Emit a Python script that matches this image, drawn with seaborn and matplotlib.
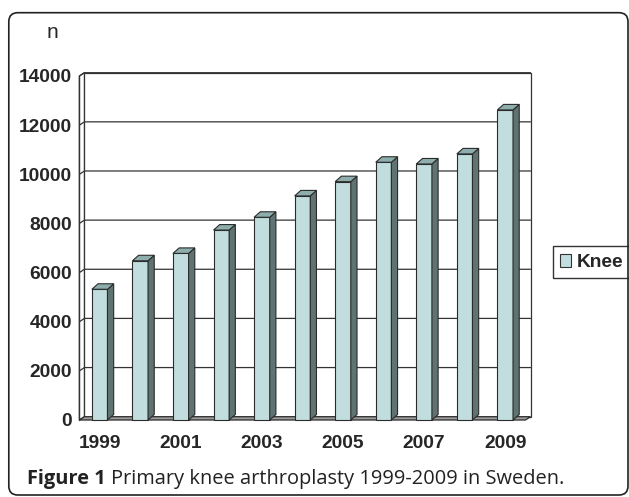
import numpy as np
import pandas as pd
import seaborn as sns
import matplotlib
matplotlib.use('Agg')
import matplotlib.pyplot as plt
from matplotlib import font_manager
from matplotlib.patches import Polygon, Rectangle, FancyBboxPatch

# data
years = [1999, 2000, 2001, 2002, 2003, 2004, 2005, 2006, 2007, 2008, 2009]
knee = [5320, 6480, 6780, 7730, 8250, 9120, 9700, 10490, 10420, 10830, 12620]
series = 'Knee'
y_ticks = [0, 2000, 4000, 6000, 8000, 10000, 12000, 14000]
caption_bold = 'Figure 1'
caption_rest = 'Primary knee arthroplasty 1999-2009 in Sweden.'

front_col = '#bce1e3'
side_col = '#5f7372'
top_col = '#8eadad'
edge_col = '#2b2b2b'

sns.set_style('white')

# the original uses a narrow Arial; take the narrow Liberation face if there is one
names = {f.name for f in font_manager.fontManager.ttflist}
if 'Liberation Sans Narrow' in names:
    tick_font, tick_size = 'Liberation Sans Narrow', 15
else:
    tick_font, tick_size = 'Liberation Sans', 13.8
plt.rcParams['font.family'] = [tick_font, 'DejaVu Sans']

df = pd.DataFrame({'year': years, 'n': knee, 'joint': series})

W, H = 629, 497
fig = plt.figure(figsize=(W / 100, H / 100), dpi=100)

# front plane of the 3d box, in pixels
x0, x1, ytop, ybot = 79.4, 525.5, 76, 420
ax = fig.add_axes([x0 / W, 1 - ybot / H, (x1 - x0) / W, (ybot - ytop) / H])
ax.patch.set_visible(False)
ymax = y_ticks[-1]
ncat = len(years)

# pixels -> data units
ux = (x1 - x0) / ncat
uy = (ybot - ytop) / ymax
wdx, wdy = 5.0 / ux, 3.3 / uy      # depth of the walls
bdx, bdy = 6.2 / ux, 5.5 / uy      # depth of the bars
left, right = -0.5, ncat - 0.5

# back wall
ax.add_patch(Rectangle((left + wdx, wdy), ncat, ymax, fc='white', ec='#333333',
                       lw=0.9, zorder=1, clip_on=False))
# left wall
ax.add_patch(Polygon([(left, 0), (left + wdx, wdy), (left + wdx, ymax + wdy), (left, ymax)],
                     closed=True, fc='white', ec='#333333', lw=0.9, zorder=1, clip_on=False))
# gridlines on the walls
for v in y_ticks[1:]:
    ax.plot([left, left + wdx, right + wdx], [v, v + wdy, v + wdy], color='#333333',
            lw=0.9, zorder=2, clip_on=False)
# floor
ax.add_patch(Polygon([(left, 0), (right, 0), (right + wdx, wdy), (left + wdx, wdy)],
                     closed=True, fc='#9c9c9c', ec=edge_col, lw=0.9, zorder=3, clip_on=False))

sns.barplot(data=df, x='year', y='n', hue='joint', palette=[front_col], width=0.385,
            edgecolor=edge_col, linewidth=0.8, ax=ax)
bars = [p for c in ax.containers for p in c]
for p in bars:
    p.set_zorder(5)
    p.set_clip_on(False)
    bx, bw, bh = p.get_x(), p.get_width(), p.get_height()
    side = [(bx + bw, 0), (bx + bw + bdx, bdy), (bx + bw + bdx, bh + bdy), (bx + bw, bh)]
    top = [(bx, bh), (bx + bw, bh), (bx + bw + bdx, bh + bdy), (bx + bdx, bh + bdy)]
    ax.add_patch(Polygon(side, closed=True, fc=side_col, ec=edge_col, lw=0.8, zorder=5, clip_on=False))
    ax.add_patch(Polygon(top, closed=True, fc=top_col, ec=edge_col, lw=0.8, zorder=5, clip_on=False))

ax.set_xlim(left, right)
ax.set_ylim(0, ymax)
for s in ax.spines.values():
    s.set_visible(False)
ax.plot([left, left], [0, ymax], color='#333333', lw=1, zorder=4, clip_on=False)

ax.set_yticks(y_ticks, labels=[str(v) for v in y_ticks])
ax.tick_params(axis='y', length=4, width=0.9, color='#333333', pad=1.5, labelsize=tick_size)
for t in ax.get_yticklabels():
    t.set_fontweight('bold')

ax.set_xticks(np.arange(left, right + 0.01, 1), labels=[])
ax.set_xticks(range(0, ncat, 2), labels=[str(y) for y in years[::2]], minor=True)
ax.tick_params(axis='x', which='major', length=5, width=0.9, color='#333333')
ax.tick_params(axis='x', which='minor', length=0, pad=11, labelsize=tick_size)
for t in ax.get_xticklabels(minor=True):
    t.set_fontweight('bold')
ax.set_xlabel('')
ax.set_ylabel('')

sns.move_legend(ax, 'center left', bbox_to_anchor=(553 / W, 1 - 262.3 / H),
                bbox_transform=fig.transFigure, title=None, frameon=True, fancybox=False,
                edgecolor='#333333', framealpha=1, borderaxespad=0, borderpad=0.38,
                handlelength=0.55, handleheight=0.72, handletextpad=0.3,
                prop={'weight': 'bold', 'size': tick_size})
leg = ax.get_legend()
leg.get_frame().set_linewidth(1.0)
for h in leg.legend_handles:
    h.set_edgecolor('#333333')
    h.set_linewidth(0.8)

fig.text(47 / W, 1 - 33 / H, 'n', fontsize=15, va='center', ha='left')

cap = fig.text(27 / W, 1 - 479 / H, caption_bold, family='Open Sans', fontweight='bold',
               fontsize=14.4, color='#222222', va='center', ha='left')
ax.annotate(caption_rest, xy=(1, 0.5), xycoords=cap, xytext=(4, 0), textcoords='offset points',
            family='Open Sans', fontsize=14.4, color='#222222', va='center', ha='left',
            annotation_clip=False)

# rounded frame around the figure
fig.add_artist(FancyBboxPatch((8.8 / 100, (H - 495) / 100), (628 - 8.8) / 100, (495 - 12.7) / 100,
                              boxstyle='round,pad=0,rounding_size=0.09',
                              transform=fig.dpi_scale_trans, fill=False, ec='#222222', lw=1.2))

fig.savefig('out.png', dpi=100)
